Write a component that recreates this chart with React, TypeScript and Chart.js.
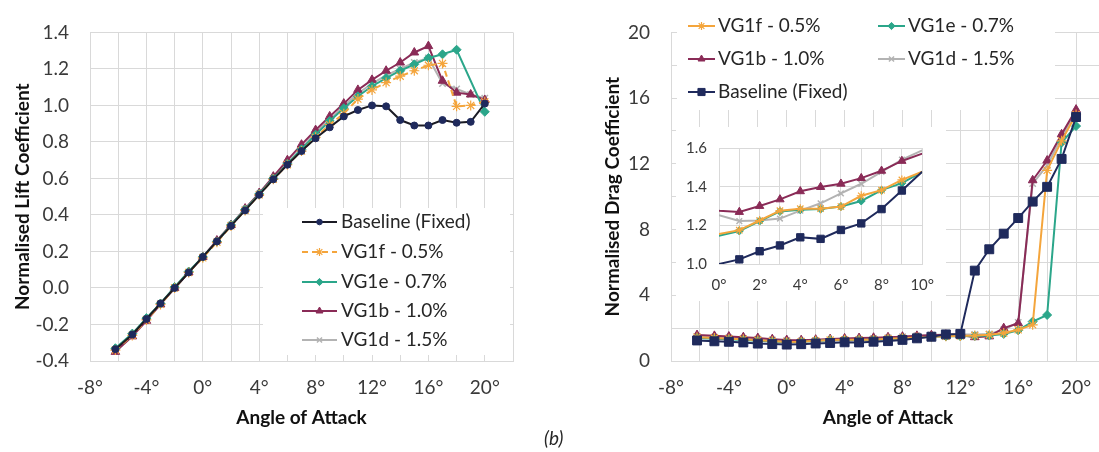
import React, { useEffect, useRef } from "react";
import { Chart, registerables } from "chart.js";
import { drawPoint } from "chart.js/helpers";

Chart.register(...registerables);

const FONT = "Lato, 'Open Sans', sans-serif";
Chart.defaults.font.family = FONT;

// ---------------- DATA ----------------
const angles = [-6.2, -5, -4, -3, -2, -1, 0, 1, 2, 3, 4, 5, 6, 7, 8, 9, 10, 11, 12, 13, 14, 15, 16, 17, 18, 19, 20];
const seriesNames = ["Baseline (Fixed)", "VG1f - 0.5%", "VG1e - 0.7%", "VG1b - 1.0%", "VG1d - 1.5%"];

const liftBaseline = [-0.335, -0.255, -0.17, -0.085, 0.0, 0.085, 0.17, 0.255, 0.34, 0.425, 0.51, 0.595, 0.675, 0.75, 0.82, 0.88, 0.94, 0.975, 1.0, 0.995, 0.92, 0.89, 0.89, 0.92, 0.905, 0.91, 1.01];
const liftVG1f = [-0.34, -0.26, -0.175, -0.09, 0.0, 0.085, 0.165, 0.25, 0.34, 0.425, 0.51, 0.595, 0.675, 0.75, 0.825, 0.895, 0.955, 1.035, 1.085, 1.125, 1.16, 1.19, 1.22, 1.23, 0.995, 1.0, 1.02];
const liftVG1e = [-0.33, -0.25, -0.165, -0.085, 0.005, 0.09, 0.17, 0.255, 0.345, 0.43, 0.515, 0.6, 0.68, 0.76, 0.84, 0.915, 0.985, 1.05, 1.105, 1.15, 1.19, 1.225, 1.26, 1.28, 1.305, null, 0.965];
const liftVG1b = [-0.35, -0.265, -0.18, -0.09, 0.0, 0.085, 0.17, 0.26, 0.345, 0.435, 0.52, 0.61, 0.7, 0.785, 0.865, 0.94, 1.01, 1.085, 1.14, 1.19, 1.235, 1.29, 1.325, 1.135, 1.07, 1.06, 1.03];
const liftVG1d = [-0.34, -0.255, -0.17, -0.085, 0.0, 0.085, 0.17, 0.255, 0.345, 0.43, 0.515, 0.6, 0.685, 0.765, 0.85, 0.925, 0.995, 1.065, 1.12, 1.165, 1.2, 1.235, 1.26, 1.12, 1.09, 1.06, 1.04];

const dragBaseline = [1.25, 1.2, 1.17, 1.13, 1.06, 1.03, 1.0, 1.024, 1.066, 1.096, 1.138, 1.13, 1.176, 1.21, 1.284, 1.38, 1.477, 1.62, 1.65, 5.5, 6.8, 7.75, 8.7, 9.7, 10.6, 12.3, 14.85];
const dragVG1f = [1.45, 1.4, 1.36, 1.32, 1.27, 1.21, 1.155, 1.175, 1.225, 1.276, 1.286, 1.286, 1.297, 1.353, 1.382, 1.435, 1.477, 1.5, 1.52, 1.55, 1.6, 1.7, 1.9, 2.2, 11.6, 13.4, 15.0];
const dragVG1e = [1.4, 1.36, 1.32, 1.28, 1.24, 1.19, 1.146, 1.171, 1.222, 1.272, 1.28, 1.284, 1.297, 1.326, 1.382, 1.418, 1.477, 1.5, 1.5, 1.52, 1.55, 1.65, 1.87, 2.4, 2.8, 13.3, 14.3];
const dragVG1b = [1.58, 1.53, 1.49, 1.45, 1.4, 1.33, 1.276, 1.269, 1.3, 1.334, 1.376, 1.398, 1.415, 1.444, 1.482, 1.533, 1.571, 1.6, 1.58, 1.45, 1.5, 2.0, 2.3, 11.0, 12.2, 13.8, 15.3];
const dragVG1d = [1.5, 1.45, 1.41, 1.37, 1.33, 1.29, 1.252, 1.222, 1.225, 1.235, 1.276, 1.314, 1.365, 1.415, 1.477, 1.54, 1.588, 1.62, 1.62, 1.62, 1.65, 1.9, 2.35, 10.8, 11.9, 13.6, 15.1];

const liftTitle = "Normalised Lift Coefficient";
const dragTitle = "Normalised Drag Coefficient";
const xTitle = "Angle of Attack";
const panelLabel = "(b)";

// ---------------- STYLE ----------------
const GRID = "#d9d9d9";
const TICK = "#3a3a3a";
const TEXT = "#262626";
const TICK_SIZE = 19;
const TITLE_SIZE = 19;
const LEGEND_SIZE = 19;
const C = {
  navy: "#1f2a5c",
  black: "#1b1b24",
  orange: "#f4a53c",
  green: "#2ba68a",
  purple: "#8a2b57",
  gray: "#b3b3b3",
};

type St = { line: string; point: string; dash?: number[]; ps: string; r: number; pbw: number };

const leftStyles: St[] = [
  { line: C.black, point: C.navy, ps: "circle", r: 3.5, pbw: 1 },
  { line: C.orange, point: C.orange, dash: [6, 4], ps: "star", r: 5, pbw: 1.2 },
  { line: C.green, point: C.green, ps: "rectRot", r: 4.5, pbw: 1 },
  { line: C.purple, point: C.purple, ps: "triangle", r: 5, pbw: 1 },
  { line: C.gray, point: C.gray, ps: "crossRot", r: 4.5, pbw: 1.5 },
];
const rightStyles: St[] = [
  { line: C.navy, point: C.navy, ps: "rect", r: 6.3, pbw: 1 },
  { line: C.orange, point: C.orange, ps: "star", r: 5, pbw: 1.2 },
  { line: C.green, point: C.green, ps: "rectRot", r: 4.5, pbw: 1 },
  { line: C.purple, point: C.purple, ps: "triangle", r: 5, pbw: 1 },
  { line: C.gray, point: C.gray, ps: "crossRot", r: 4.5, pbw: 1.5 },
];
const insetStyles: St[] = [
  { line: C.navy, point: C.navy, ps: "rect", r: 5.2, pbw: 1 },
  { line: C.orange, point: C.orange, ps: "star", r: 4.5, pbw: 1.2 },
  { line: C.green, point: C.green, ps: "rectRot", r: 4, pbw: 1 },
  { line: C.purple, point: C.purple, ps: "triangle", r: 4.8, pbw: 1 },
  { line: C.gray, point: C.gray, ps: "crossRot", r: 4, pbw: 1.5 },
];

function makeDs(label: string, values: (number | null)[], st: St, inset = false) {
  return {
    label,
    data: angles.map((x, i) => ({ x, y: values[i] })),
    borderColor: st.line,
    backgroundColor: st.point,
    borderWidth: 2,
    borderDash: st.dash ?? [],
    pointStyle: st.ps,
    pointRadius: inset
      ? (c: any) => {
          const x = c.raw ? c.raw.x : 0;
          return x > 0 && x < 10 ? st.r : 0;
        }
      : st.r,
    pointBackgroundColor: st.point,
    pointBorderColor: st.point,
    pointBorderWidth: st.pbw,
    tension: 0,
    spanGaps: true,
    clip: inset ? 0 : 8,
  };
}

function drawSample(ctx: CanvasRenderingContext2D, st: St, x1: number, x2: number, y: number) {
  ctx.save();
  ctx.strokeStyle = st.line;
  ctx.lineWidth = 2;
  ctx.setLineDash(st.dash ?? []);
  ctx.beginPath();
  ctx.moveTo(x1, y);
  ctx.lineTo(x2, y);
  ctx.stroke();
  ctx.setLineDash([]);
  ctx.fillStyle = st.point;
  ctx.strokeStyle = st.point;
  ctx.lineWidth = st.pbw;
  drawPoint(ctx, { pointStyle: st.ps as any, radius: st.r * 0.8, rotation: 0, borderWidth: st.pbw } as any, (x1 + x2) / 2, y);
  ctx.restore();
}

function drawText(ctx: CanvasRenderingContext2D, text: string, x: number, y: number) {
  ctx.save();
  ctx.fillStyle = TEXT;
  ctx.font = `${LEGEND_SIZE}px ${FONT}`;
  ctx.textAlign = "left";
  ctx.textBaseline = "middle";
  ctx.fillText(text, x, y);
  ctx.restore();
}

const leftLegendPlugin = {
  id: "leftLegend",
  afterDraw(chart: any) {
    const ctx = chart.ctx as CanvasRenderingContext2D;
    ctx.save();
    ctx.fillStyle = "#ffffff";
    ctx.fillRect(263, 208, 247, 147);
    ctx.restore();
    const rows = [222, 252, 282, 311, 340];
    seriesNames.forEach((name, i) => {
      drawSample(ctx, leftStyles[i], 302, 337, rows[i]);
      drawText(ctx, name, 341, rows[i]);
    });
  },
};

const rightLegendPlugin = {
  id: "rightLegend",
  afterDraw(chart: any) {
    const ctx = chart.ctx as CanvasRenderingContext2D;
    ctx.save();
    ctx.fillStyle = "#ffffff";
    ctx.fillRect(117, 0, 378, 110);
    ctx.restore();
    // order: VG1f, VG1e / VG1b, VG1d / Baseline
    const layout = [
      { i: 1, x: 128, y: 26 },
      { i: 2, x: 318, y: 26 },
      { i: 3, x: 128, y: 59 },
      { i: 4, x: 318, y: 59 },
      { i: 0, x: 128, y: 92 },
    ];
    layout.forEach(({ i, x, y }) => {
      drawSample(ctx, rightStyles[i], x, x + 27, y);
      drawText(ctx, seriesNames[i], x + 30, y);
    });
  },
};

const fmt1 = (v: number) => (Math.abs(v) < 1e-9 ? 0 : v).toFixed(1);
const degLabel = (v: number, every: number, maxL: number) =>
  Math.abs(v % every) < 1e-9 && v <= maxL ? `${v}°` : "";

function xAxis(height: number) {
  return {
    type: "linear" as const,
    min: -8,
    max: 22,
    afterFit: (s: any) => {
      s.height = height;
    },
    ticks: {
      stepSize: 2,
      autoSkip: false,
      maxRotation: 0,
      padding: 15,
      color: TICK,
      font: { size: TICK_SIZE },
      callback: (v: any) => degLabel(Number(v), 4, 20),
    },
    grid: { color: GRID, drawTicks: false, lineWidth: 1 },
    border: { color: GRID },
    title: {
      display: true,
      text: xTitle,
      color: "#111",
      font: { size: TITLE_SIZE, weight: "bold" as const },
      padding: { top: 0, bottom: 1 },
    },
  };
}

function leftConfig(): any {
  const ds = [liftBaseline, liftVG1f, liftVG1e, liftVG1b, liftVG1d].map((v, i) => makeDs(seriesNames[i], v, leftStyles[i]));
  return {
    type: "line",
    data: { datasets: ds },
    plugins: [leftLegendPlugin],
    options: {
      animation: false,
      responsive: false,
      events: [],
      layout: { padding: { left: 0, top: 20, right: 27, bottom: 0 } },
      plugins: { legend: { display: false }, tooltip: { enabled: false } },
      scales: {
        x: xAxis(69),
        y: {
          min: -0.4,
          max: 1.4,
          afterFit: (s: any) => {
            s.width = 90;
          },
          ticks: { stepSize: 0.2, padding: 21, color: TICK, font: { size: TICK_SIZE }, callback: (v: any) => fmt1(Number(v)) },
          grid: { color: GRID, drawTicks: false },
          border: { color: GRID },
          title: {
            display: true,
            text: liftTitle,
            color: "#111",
            font: { size: TITLE_SIZE, weight: "bold" },
            padding: { top: 11, bottom: 0 },
          },
        },
      },
    },
  };
}

function rightConfig(): any {
  const ds = [dragBaseline, dragVG1f, dragVG1e, dragVG1b, dragVG1d].map((v, i) => makeDs(seriesNames[i], v, rightStyles[i]));
  return {
    type: "line",
    data: { datasets: ds },
    plugins: [rightLegendPlugin],
    options: {
      animation: false,
      responsive: false,
      events: [],
      layout: { padding: { left: 0, top: 19, right: 14, bottom: 0 } },
      plugins: { legend: { display: false }, tooltip: { enabled: false } },
      scales: {
        x: xAxis(69),
        y: {
          min: 0,
          max: 20,
          afterFit: (s: any) => {
            s.width = 111;
          },
          ticks: {
            stepSize: 2,
            padding: 21,
            color: TICK,
            font: { size: TICK_SIZE },
            callback: (v: any) => (Number(v) % 4 === 0 ? String(v) : ""),
          },
          grid: { color: GRID, drawTicks: false },
          border: { color: GRID },
          title: {
            display: true,
            text: dragTitle,
            color: "#111",
            font: { size: TITLE_SIZE, weight: "bold" },
            padding: { top: 41, bottom: 0 },
          },
        },
      },
    },
  };
}

function insetConfig(): any {
  const ds = [dragBaseline, dragVG1f, dragVG1e, dragVG1b, dragVG1d].map((v, i) => makeDs(seriesNames[i], v, insetStyles[i], true));
  return {
    type: "line",
    data: { datasets: ds },
    options: {
      animation: false,
      responsive: false,
      events: [],
      layout: { padding: { left: 0, top: 18, right: 21, bottom: 0 } },
      plugins: { legend: { display: false }, tooltip: { enabled: false } },
      scales: {
        x: {
          type: "linear",
          min: 0,
          max: 10,
          afterFit: (s: any) => {
            s.height = 37;
          },
          ticks: {
            stepSize: 1,
            autoSkip: false,
            maxRotation: 0,
            padding: 12,
            color: TICK,
            font: { size: 15 },
            callback: (v: any) => degLabel(Number(v), 2, 10),
          },
          grid: { color: GRID, drawTicks: false },
          border: { color: GRID },
        },
        y: {
          min: 1.0,
          max: 1.6,
          afterFit: (s: any) => {
            s.width = 43;
          },
          ticks: {
            stepSize: 0.1,
            padding: 12,
            color: TICK,
            font: { size: 15 },
            callback: (v: any) => (Math.round(Number(v) * 10) % 2 === 0 ? fmt1(Number(v)) : ""),
          },
          grid: { color: GRID, drawTicks: false },
          border: { color: GRID },
        },
      },
    },
  };
}

function ChartCanvas(props: { make: () => any; left: number; top: number; width: number; height: number; bg?: string }) {
  const ref = useRef<HTMLCanvasElement>(null);
  useEffect(() => {
    const chart = new Chart(ref.current as HTMLCanvasElement, props.make());
    return () => chart.destroy();
  }, []);
  return (
    <canvas
      ref={ref}
      width={props.width}
      height={props.height}
      style={{
        position: "absolute",
        left: props.left,
        top: props.top,
        width: props.width,
        height: props.height,
        background: props.bg ?? "transparent",
      }}
    />
  );
}

export default function App() {
  return (
    <div
      style={{
        position: "fixed",
        left: 0,
        top: 0,
        width: 1099,
        height: 452,
        overflow: "hidden",
        background: "#ffffff",
      }}
    >
      <ChartCanvas make={leftConfig} left={0} top={0} width={540} height={430} />
      <ChartCanvas make={rightConfig} left={560} top={0} width={560} height={430} />
      <ChartCanvas make={insetConfig} left={676} top={127} width={270} height={174} bg="#ffffff" />
      <div
        style={{
          position: "absolute",
          left: 544,
          top: 427,
          font: `italic 19px ${FONT}`,
          lineHeight: "22px",
          color: TEXT,
        }}
      >
        {panelLabel}
      </div>
    </div>
  );
}
